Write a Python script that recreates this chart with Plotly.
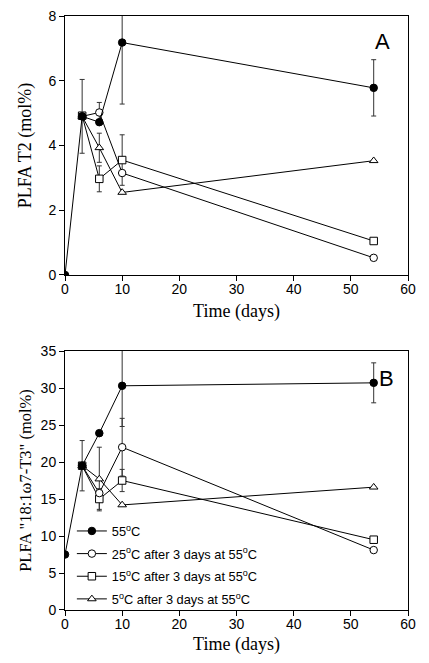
import plotly.graph_objects as go
from plotly.subplots import make_subplots

# ---- data ----
days_all = [0, 3, 6, 10, 54]
days_shift = [3, 6, 10, 54]

series_names = ["55<sup>o</sup>C",
                "25<sup>o</sup>C after 3 days at 55<sup>o</sup>C",
                "15<sup>o</sup>C after 3 days at 55<sup>o</sup>C",
                "5<sup>o</sup>C after 3 days at 55<sup>o</sup>C"]

# Panel A: PLFA T2 (mol%)
a_55 = [0.0, 4.9, 4.72, 7.18, 5.78]
a_55_err = [0, 1.14, 0, 1.9, 0.87]
a_25 = [4.9, 5.02, 3.15, 0.53]
a_25_err = [0, 0.31, 0, 0]
a_15 = [4.92, 2.97, 3.55, 1.05]
a_15_err = [0, 0.4, 0.78, 0]
a_5 = [4.9, 3.93, 2.55, 3.53]
a_5_err = [0, 0.45, 0, 0]

# Panel B: PLFA "18:1w7-T3" (mol%)
b_55 = [7.5, 19.5, 23.9, 30.3, 30.7]
b_55_err = [0, 3.4, 0, 5.5, 2.7]
b_25 = [19.5, 15.8, 22.0, 8.1]
b_25_err = [0, 0, 3.9, 0]
b_15 = [19.5, 15.0, 17.5, 9.5]
b_15_err = [0, 1.4, 1.5, 0]
b_5 = [19.5, 17.7, 14.2, 16.6]
b_5_err = [0, 4.3, 0, 0]

x_ticks = [0, 10, 20, 30, 40, 50, 60]
a_ticks = [0, 2, 4, 6, 8]
b_ticks = [0, 5, 10, 15, 20, 25, 30, 35]

fig = make_subplots(rows=2, cols=1, vertical_spacing=0.128)

symbols = ["circle", "circle", "square", "triangle-up"]
fills = ["black", "white", "white", "white"]

def add_panel(row, data, showlegend):
    for i in [3, 2, 1, 0]:
        x, y, e = data[i]
        fig.add_trace(go.Scatter(
            x=x, y=y, mode="lines+markers", name=series_names[i],
            line=dict(color="black", width=1),
            marker=dict(symbol=symbols[i], size=7.5, color=fills[i],
                        line=dict(color="black", width=1)),
            error_y=dict(type="data", array=e, visible=True, color="#333333",
                         thickness=1, width=2.5),
            showlegend=showlegend, legendrank=i + 1, legendgroup="g%d" % i,
        ), row=row, col=1)

add_panel(1, [(days_all, a_55, a_55_err), (days_shift, a_25, a_25_err),
              (days_shift, a_15, a_15_err), (days_shift, a_5, a_5_err)], False)
add_panel(2, [(days_all, b_55, b_55_err), (days_shift, b_25, b_25_err),
              (days_shift, b_15, b_15_err), (days_shift, b_5, b_5_err)], True)

serif = "Liberation Serif, Times New Roman, serif"
sans = "Liberation Sans, Arial, sans-serif"

axis_common = dict(showline=True, linecolor="black", linewidth=1, mirror=True,
                   ticks="outside", ticklen=5, tickcolor="black", showgrid=False,
                   zeroline=False, automargin=False, ticklabeloverflow="allow",
                   tickfont=dict(family=sans, size=14, color="black"))

fig.update_xaxes(**axis_common, range=[0, 60], tickvals=x_ticks, ticklabelstandoff=-4,
                 title=dict(text="Time (days)", font=dict(family=serif, size=18, color="black"), standoff=8))
fig.update_yaxes(**axis_common)
fig.update_yaxes(range=[0, 8], tickvals=a_ticks, row=1, col=1,
                 title=dict(text="PLFA T2 (mol%)", font=dict(family=serif, size=18, color="black"), standoff=12))
fig.update_yaxes(range=[0, 35], tickvals=b_ticks, row=2, col=1,
                 title=dict(text='PLFA "18:1\u03c97-T3" (mol%)', font=dict(family=serif, size=16.5, color="black"), standoff=4))

fig.add_annotation(text="A", xref="x", yref="y", x=55.6, y=7.2, showarrow=False,
                   xanchor="center", font=dict(family=sans, size=22, color="black"))
fig.add_annotation(text="B", xref="x2", yref="y2", x=56.3, y=31.3, showarrow=False,
                   xanchor="center", font=dict(family=sans, size=22, color="black"))

# page body has an 8px margin: size the figure so the page needs no scrollbars
fig.update_layout(
    width=413, height=647,
    margin=dict(l=57, r=13, t=8, b=45),
    paper_bgcolor="white", plot_bgcolor="white",
    legend=dict(x=0.02, y=0.158, xanchor="left", yanchor="top", bgcolor="rgba(0,0,0,0)",
                font=dict(family=sans, size=12.8, color="black"),
                tracegroupgap=3, itemwidth=30),
)

fig.write_html("out.html")
